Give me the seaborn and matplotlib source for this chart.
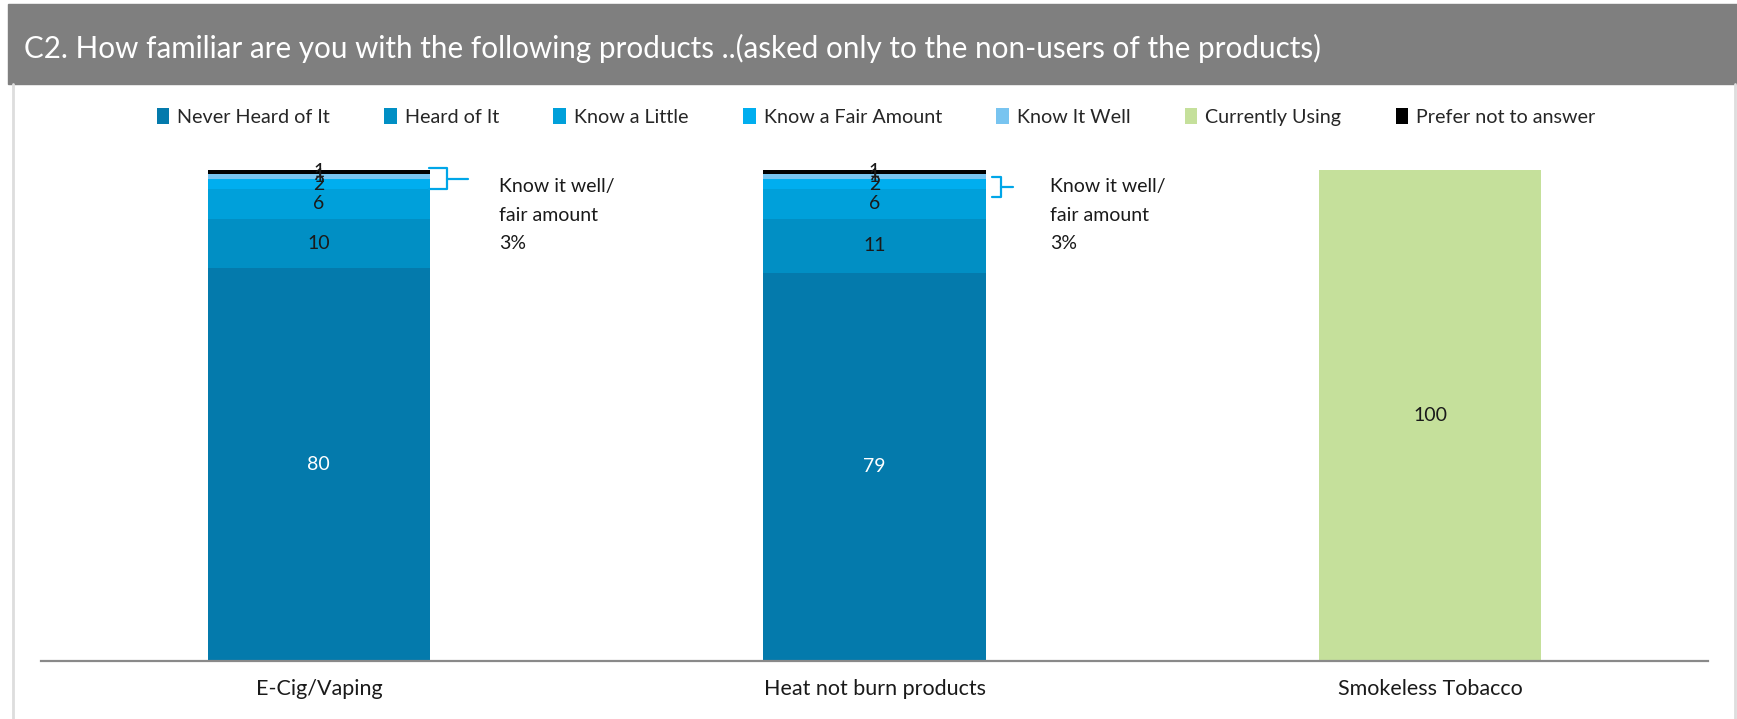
import matplotlib
matplotlib.use("Agg")
import matplotlib.pyplot as plt
import seaborn as sns
import numpy as np
from matplotlib.patches import Patch, Rectangle
from matplotlib.lines import Line2D

# --- data -------------------------------------------------------------
products = ["E-Cig/Vaping", "Heat not burn products", "Smokeless Tobacco"]
levels = ["Never Heard of It", "Heard of It", "Know a Little", "Know a Fair Amount",
          "Know It Well", "Currently Using", "Prefer not to answer"]
never_heard = [80, 79, 0]
heard_of = [10, 11, 0]
know_little = [6, 6, 0]
know_fair = [2, 2, 0]
know_well = [1, 1, 0]
currently_using = [0, 0, 100]
prefer_not = [1, 1, 0]

title = "C2. How familiar are you with the following products ..(asked only to the non-users of the products)"

# --- style ------------------------------------------------------------
colors = ["#047AAC", "#018FC4", "#00A0DA", "#00AEEF", "#78C4F0", "#C5E09B", "#000000"]
label_colors = ["white", "#1a1a1a", "#1a1a1a", "#1a1a1a", "#1a1a1a", "#1a1a1a", "#1a1a1a"]
brace_color = "#00A6E8"

sns.set_theme(style="white")
plt.rcParams["font.family"] = ["Lato", "DejaVu Sans"]

W, H = 1737, 719
fig = plt.figure(figsize=(W / 100, H / 100), dpi=100)
fig.patch.set_facecolor("white")

# title band and side frame lines
fig.patches.append(Rectangle((8 / W, 1 - 84 / H), (W - 8) / W, 80 / H,
                             transform=fig.transFigure, color="#7F7F7F", zorder=0))
for xf in (13 / W, 1735 / W):
    fig.lines.append(Line2D([xf, xf], [0, 1 - 84 / H], transform=fig.transFigure,
                            color="#DDDDDD", lw=2))
fig.text(24 / W, 1 - 48 / H, title, color="white", fontsize=21.3, va="center", ha="left")

# plot area
ax = fig.add_axes([41 / W, 1 - 661 / H, (1708 - 41) / W, (661 - 169.5) / H])

series = [never_heard, heard_of, know_little, know_fair, know_well, currently_using, prefer_not]
values = np.array(series, dtype=float)
cum = np.cumsum(values, axis=0)

# stacked bars: draw cumulative totals from the top layer down
for i in range(len(levels) - 1, -1, -1):
    sns.barplot(x=products, y=cum[i], color=colors[i], width=0.4, saturation=1,
                linewidth=0, ax=ax, zorder=2)

# segment labels
for i in range(len(levels)):
    for j in range(len(products)):
        v = values[i, j]
        if v > 0:
            ax.text(j, cum[i, j] - v / 2, f"{v:.0f}", ha="center", va="center",
                    fontsize=14, color=label_colors[i], zorder=5)

# "know it well / fair amount" braces and notes
px = 3 / (1708 - 41)  # data units per pixel along x
brace_spans = [(96.0, 100.3), (94.4, 98.5)]
brace_x = [(110, 128, 149), (117, 127, 138)]
note_x = [180, 176]
for j in range(2):
    lo, hi = brace_spans[j]
    x0, x1, x2 = (j + d * px for d in brace_x[j])
    mid = (lo + hi) / 2
    ax.plot([x0, x1, x1, x0], [hi, hi, lo, lo], color=brace_color, lw=1.6,
            clip_on=False, zorder=4, solid_joinstyle="round")
    ax.plot([x1, x2], [mid, mid], color=brace_color, lw=1.6, clip_on=False, zorder=4)
    share = know_fair[j] + know_well[j]
    ax.text(j + note_x[j] * px, 90.7, f"Know it well/\nfair amount\n{share:.0f}%",
            ha="left", va="center", fontsize=14, color="#1a1a1a", linespacing=1.82,
            clip_on=False)

ax.set_xlim(-0.5, 2.5)
ax.set_ylim(0, 100)
ax.set_xlabel("")
ax.set_ylabel("")
ax.set_yticks([])
ax.set_xticks(range(len(products)))
ax.set_xticklabels(products, fontsize=15.5, color="#1a1a1a")
ax.set_xticks([-0.5, 0.5, 1.5, 2.5], minor=True)
ax.tick_params(axis="x", which="major", length=0, pad=13)
ax.tick_params(axis="x", which="minor", length=5, width=1.5, color="#898989", direction="out")
for s in ("top", "left", "right"):
    ax.spines[s].set_visible(False)
ax.spines["bottom"].set_color("#898989")
ax.spines["bottom"].set_linewidth(1.6)
ax.set_facecolor("none")

handles = [Patch(facecolor=c, edgecolor="none") for c in colors]
fig.legend(handles, levels, ncol=7, loc="center", bbox_to_anchor=(876 / W, 1 - 117 / H),
           frameon=False, fontsize=14.2, handlelength=0.65, handleheight=0.85,
           handletextpad=0.4, columnspacing=2.75)

fig.savefig("out.png", dpi=100, facecolor="white")
